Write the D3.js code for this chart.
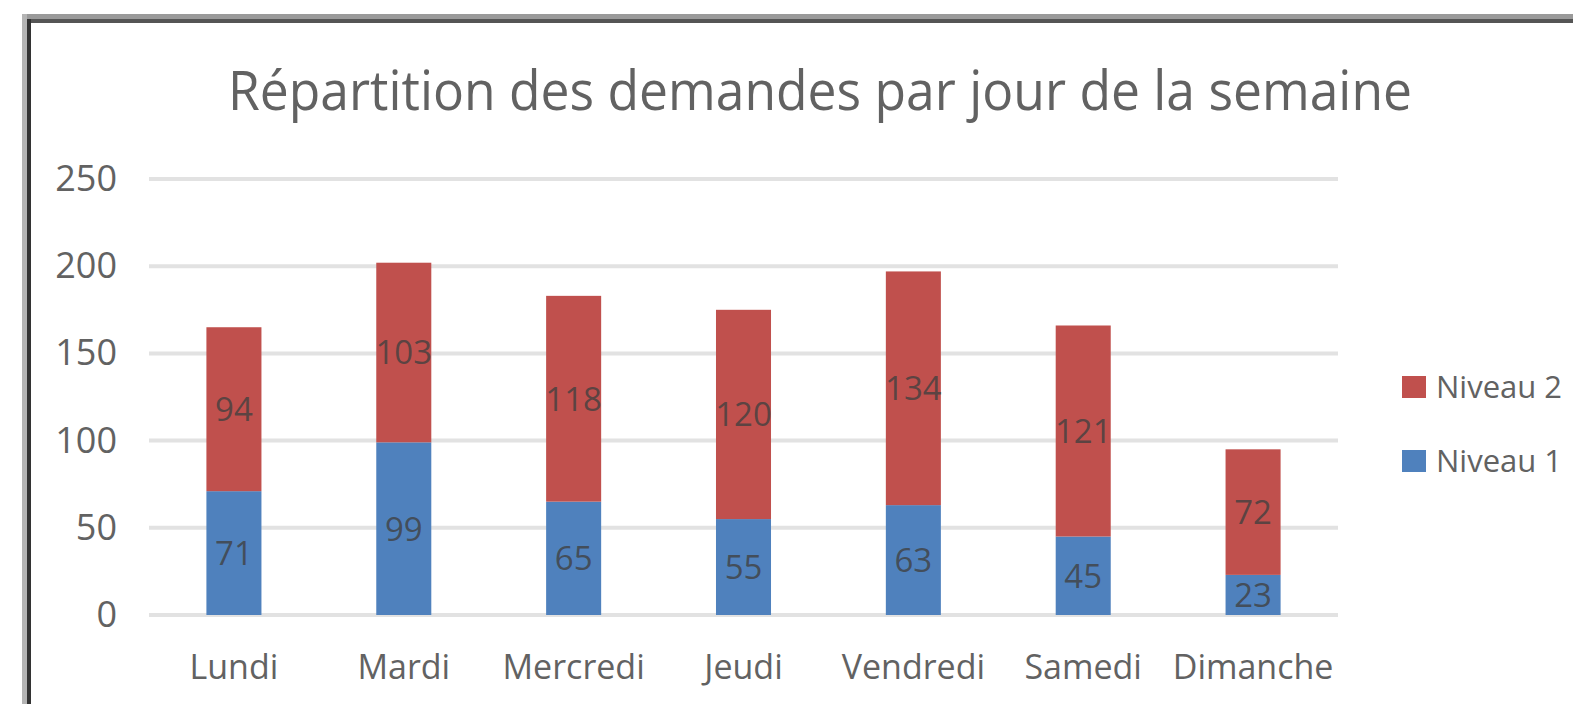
<!DOCTYPE html>
<html>
<head>
<meta charset="utf-8">
<script src="https://cdn.jsdelivr.net/npm/d3@7"></script>
<style>
    body { margin: 0; background: #fff; }
    svg { display: block; font-family: 'Open Sans', sans-serif; }
</style>
</head>
<body>
<div class="chart"></div>
<script>
(function () {
    'use strict';

    const days = ['Lundi', 'Mardi', 'Mercredi', 'Jeudi', 'Vendredi', 'Samedi', 'Dimanche'];
    const niveau1 = [71, 99, 65, 55, 63, 45, 23];
    const niveau2 = [94, 103, 118, 120, 134, 121, 72];
    const yTicks = [0, 50, 100, 150, 200, 250];
    const seriesNames = ['Niveau 1', 'Niveau 2'];
    const seriesColors = ['#4f81bd', '#c0504d'];

    const W = 1573, H = 704;

    const svg = d3.select('.chart').append('svg')
        .attr('width', W).attr('height', H);

    // chart frame (only top and left edges are in view)
    svg.append('rect').attr('x', 22).attr('y', 14).attr('width', W - 22).attr('height', 5).attr('fill', '#9a9a9a');
    svg.append('rect').attr('x', 27).attr('y', 19).attr('width', W - 27).attr('height', 4).attr('fill', '#555');
    svg.append('rect').attr('x', 22).attr('y', 14).attr('width', 5).attr('height', H - 14).attr('fill', '#b4b4b4');
    svg.append('rect').attr('x', 27).attr('y', 19).attr('width', 4).attr('height', H - 19).attr('fill', '#333');

    svg.append('text')
        .attr('x', 820).attr('y', 110)
        .attr('text-anchor', 'middle')
        .attr('textLength', 1184).attr('lengthAdjust', 'spacingAndGlyphs')
        .style('font-size', '54px').style('fill', '#626262')
        .text('Répartition des demandes par jour de la semaine');

    const x = d3.scaleBand().domain(days).range([149, 1338])
        .paddingInner(0.676).paddingOuter(0.338);
    const y = d3.scaleLinear().domain([0, 250]).range([615, 179]);

    // gridlines
    svg.append('g').selectAll('line').data(yTicks).enter().append('line')
        .attr('x1', 149).attr('x2', 1338)
        .attr('y1', function (d) { return y(d); })
        .attr('y2', function (d) { return y(d); })
        .style('stroke', '#e2e2e2').style('stroke-width', 4);

    const yAxis = svg.append('g').attr('transform', 'translate(149,0)')
        .call(d3.axisLeft(y).tickValues(yTicks).tickSize(0).tickPadding(32));
    yAxis.select('.domain').remove();
    yAxis.selectAll('text').style('font-size', '36px').style('fill', '#626262')
        .style('font-family', "'Open Sans', sans-serif");

    const xAxis = svg.append('g').attr('transform', 'translate(0,615)')
        .call(d3.axisBottom(x).tickSize(0).tickPadding(40));
    xAxis.select('.domain').remove();
    xAxis.selectAll('text').style('font-size', '34px').style('fill', '#626262')
        .style('font-family', "'Open Sans', sans-serif");

    const table = days.map(function (d, i) {
        return { day: d, 'Niveau 1': niveau1[i], 'Niveau 2': niveau2[i] };
    });
    const stacked = d3.stack().keys(seriesNames)(table);

    const layers = svg.append('g').selectAll('g').data(stacked).enter().append('g')
        .style('fill', function (d, i) { return seriesColors[i]; });

    layers.selectAll('rect').data(function (d) { return d; }).enter().append('rect')
        .attr('x', function (d) { return x(d.data.day); })
        .attr('width', x.bandwidth())
        .attr('y', function (d) { return y(d[1]); })
        .attr('height', function (d) { return y(d[0]) - y(d[1]); });

    layers.selectAll('text').data(function (d) { return d; }).enter().append('text')
        .attr('x', function (d) { return x(d.data.day) + x.bandwidth() / 2; })
        .attr('y', function (d) { return (y(d[0]) + y(d[1])) / 2; })
        .attr('dy', '0.36em')
        .attr('text-anchor', 'middle')
        .style('font-size', '33px').style('fill', '#404040').style('fill-opacity', 0.8)
        .text(function (d) { return d[1] - d[0]; });

    // legend, Niveau 2 on top
    const legend = svg.append('g').selectAll('g').data([1, 0]).enter().append('g')
        .attr('transform', function (d, i) { return 'translate(1402,' + (387 + i * 74) + ')'; });
    legend.append('rect').attr('x', 0).attr('y', -11).attr('width', 24).attr('height', 22)
        .style('fill', function (d) { return seriesColors[d]; });
    legend.append('text').attr('x', 34).attr('dy', '0.36em')
        .style('font-size', '31px').style('fill', '#626262')
        .text(function (d) { return seriesNames[d]; });
})();
</script>
</body>
</html>
